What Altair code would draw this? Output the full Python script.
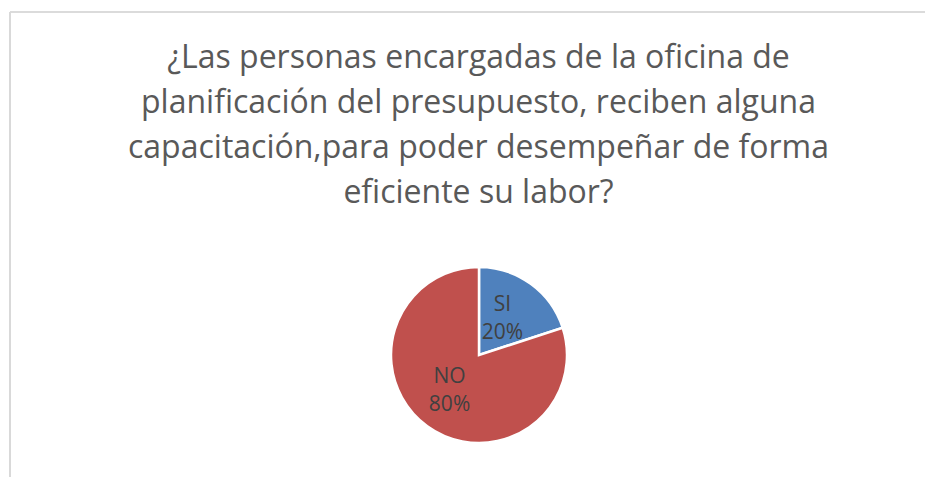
import altair as alt
import pandas as pd

categories = ["SI", "NO"]
values = [20, 80]
labels = ["20%", "80%"]
colors = ["#4F81BD", "#C0504D"]
title_lines = [
    "¿Las personas encargadas de la oficina de",
    "planificación del presupuesto, reciben alguna",
    "capacitación,para poder desempeñar de forma",
    "eficiente su labor?",
]

df = pd.DataFrame({
    "categoria": categories,
    "valor": values,
    "pct": labels,
    "orden": list(range(len(categories))),
})
df["etiqueta"] = df["categoria"] + "\n" + df["pct"]

W, H = 917, 469
CX, CY = 471, 347
R = 88

theta = alt.Theta("valor:Q", stack=True)
color = alt.Color("categoria:N", scale=alt.Scale(domain=categories, range=colors), legend=None)

pie = alt.Chart(df).mark_arc(radius=R, stroke="white", strokeWidth=2.5).encode(
    theta=theta,
    color=color,
    order=alt.Order("orden:Q"),
    x=alt.value(CX),
    y=alt.value(CY),
)

text = alt.Chart(df).mark_text(
    radius=45, fontSize=21, font="Open Sans", color="#404040", lineBreak="\n", lineHeight=28,
    baseline="middle", align="center", dx=-3, dy=-14,
).encode(
    theta=theta,
    text="etiqueta:N",
    order=alt.Order("orden:Q"),
    x=alt.value(CX),
    y=alt.value(CY),
)

frame_top = alt.Chart(df).mark_rule(color="#D9D9D9", strokeWidth=1.5).encode(
    x=alt.value(2), x2=alt.value(W + 20), y=alt.value(4)
)
frame_left = alt.Chart(df).mark_rule(color="#D9D9D9", strokeWidth=2).encode(
    x=alt.value(2), y=alt.value(4), y2=alt.value(H + 20)
)

chart = alt.layer(frame_top, frame_left, pie, text).properties(
    width=W,
    height=H,
    padding=0,
    autosize=alt.AutoSizeParams(type="none"),
    title=alt.Title(
        title_lines,
        font="Open Sans",
        fontSize=32,
        fontWeight="normal",
        color="#595959",
        lineHeight=45,
        anchor="middle",
        frame="group",
        baseline="top",
        offset=-202,
        dx=12,
    ),
).configure_view(stroke=None)

chart.save("out.html", embed_options={"renderer": "svg", "actions": False})
